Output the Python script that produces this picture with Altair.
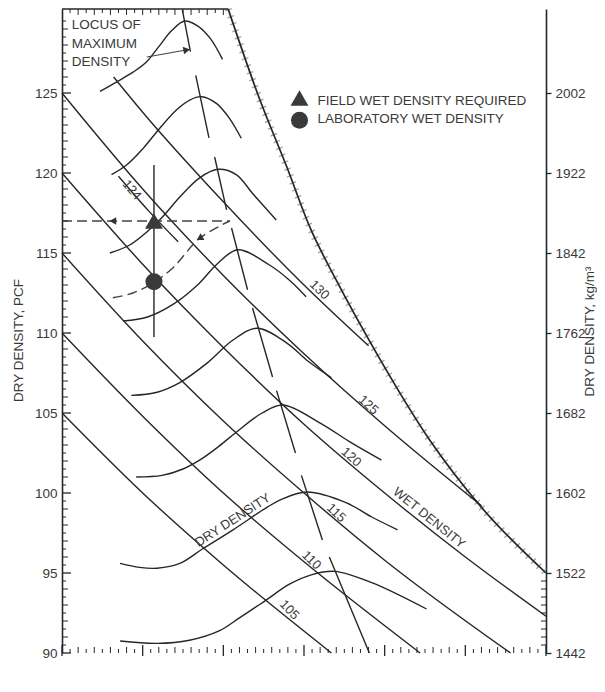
import altair as alt
import pandas as pd

FONT = "Liberation Sans"
INK = "#262626"
TXT = "#3a3a3a"

# ---------------- data ----------------
# x = moisture content (% of dry weight), y = dry density (pcf)
x_ticks = [0, 5, 10, 15, 20, 25, 30]
y_ticks = [90, 95, 100, 105, 110, 115, 120, 125]
kg_labels = ["1442", "1522", "1602", "1682", "1762", "1842", "1922", "2002"]

# compaction curves (dry density vs moisture)
curve_w = [
    [2.35, 3.4, 4.4, 5.2, 6.0, 6.8, 7.6, 8.4, 9.2, 9.95],
    [3.07, 4.0, 5.03, 6.06, 7.09, 7.92, 8.64, 9.57, 10.39, 11.11],
    [2.97, 4.2, 5.24, 6.27, 7.3, 8.53, 9.67, 10.8, 11.83, 13.28],
    [3.8, 5.3, 6.9, 8.5, 9.6, 10.9, 12.86, 14.1, 15.13],
    [4.3, 5.9, 7.3, 8.97, 10.6, 12.1, 13.9, 15.3, 16.7],
    [4.6, 6.2, 7.5, 8.6, 9.7, 10.8, 12.4, 13.7, 15.95, 18.0, 19.8],
    [3.6, 4.8, 5.9, 7.3, 8.7, 10.6, 12.7, 13.6, 15.2, 17.6, 19.2, 20.8],
    [3.6, 5.9, 7.9, 9.77, 11.0, 12.5, 14.1, 15.5, 16.9, 19.2, 22.6],
]
curve_d = [
    [125.1, 125.7, 126.3, 126.9, 127.9, 128.9, 129.5, 129.2, 128.4, 127.1],
    [119.9, 120.5, 121.54, 122.8, 123.94, 124.56, 124.77, 124.35, 123.4, 122.17],
    [115.0, 115.5, 116.3, 117.3, 118.5, 119.7, 120.23, 119.9, 118.7, 117.06],
    [110.75, 111.0, 111.8, 113.1, 114.3, 115.2, 114.25, 113.3, 112.27],
    [106.1, 106.3, 106.9, 108.1, 109.56, 110.3, 109.4, 108.2, 107.2],
    [101.0, 101.1, 101.5, 102.1, 102.9, 103.8, 105.0, 105.5, 104.4, 103.1, 102.06],
    [95.6, 95.35, 95.3, 95.6, 96.5, 97.7, 99.1, 99.6, 100.06, 99.4, 98.5, 97.7],
    [90.75, 90.6, 90.8, 91.4, 92.2, 93.2, 94.3, 94.9, 95.1, 94.4, 92.75],
]

# wet density lines (pcf)
wet_names = ["105", "110", "115", "120", "125", "130", "124"]
wet_w = [
    [0, 5, 10, 16.7],
    [0, 5, 10, 15, 22.2],
    [0, 5, 10, 15, 20, 27.8],
    [0, 5, 10, 15, 20, 25, 30],
    [0, 5, 10, 15, 20, 26.0],
    [3.2, 5, 10, 15, 19.0],
    [3.5, 5.4, 7.2],
]
wet_d = [
    [105, 100.0, 95.5, 90.0],
    [110, 104.8, 100.0, 95.7, 90.0],
    [115, 109.5, 104.5, 100.0, 95.8, 90.0],
    [120, 114.3, 109.1, 104.3, 100.0, 96.0, 92.3],
    [125, 119.0, 113.6, 108.7, 104.2, 99.2],
    [126.0, 123.8, 118.2, 113.0, 109.2],
    [119.8, 117.6, 115.7],
]

# hatched limiting boundary
bound_w = [10.3, 12.27, 13.93, 15.37, 17.0, 19.5, 22.8, 26.0, 30.0]
bound_d = [130.25, 124.56, 120.39, 116.6, 113.3, 108.73, 103.3, 99.1, 95.0]

# locus of maximum density segments (start, end)
locus_w = [[7.46, 7.96], [8.29, 9.11], [9.46, 10.2], [10.51, 11.5],
           [11.81, 13.05], [13.3, 14.47], [14.84, 16.14], [16.57, 19.05]]
locus_d = [[130.19, 127.58], [126.1, 122.2], [121.0, 117.7], [116.56, 112.7],
           [111.56, 107.25], [106.4, 102.5], [101.1, 97.06], [96.0, 90.0]]

# construction (dashed) lines
field_w = [0, 10.4]
field_d = [117.0, 117.0]
lab_w = [3.15, 4.4, 5.75, 6.9, 8.53, 10.4]
lab_d = [112.2, 112.5, 113.2, 114.1, 115.92, 117.0]
vert_w = [5.7, 5.7]
vert_d = [109.75, 120.5]

# symbols
tri_w, tri_d = [5.7, 14.72], [117.0, 124.69]
circ_w, circ_d = [5.7, 14.72], [113.2, 123.3]

# arrow heads and pointer line
arrow_w = [3.15, 8.53, 7.73]
arrow_d = [117.0, 115.92, 127.69]
arrow_ang = [0, 330, 170]
pointer_w = [5.26, 7.6]
pointer_d = [127.25, 127.67]

# labels written along lines
lab_text = ["130", "125", "120", "115", "110", "105", "124", "WET DENSITY", "DRY DENSITY"]
lab_tw = [15.96, 18.99, 17.93, 17.0, 15.46, 14.1, 4.33, 22.76, 10.58]
lab_td = [112.7, 105.5, 102.25, 98.75, 95.8, 92.7, 118.94, 98.44, 98.3]
lab_ang = [44, 42, 42, 43, 44, 46, 50, 39, 327]

locus_text = ["LOCUS OF", "MAXIMUM", "DENSITY"]
locus_tw = [0.6, 0.6, 0.6]
locus_td = [129.22, 128.07, 126.96]

legend_text = ["FIELD WET DENSITY REQUIRED", "LABORATORY WET DENSITY"]
legend_w = [15.83, 15.83]
legend_d = [124.5, 123.4]

# ---------------- chart ----------------
W_PX, H_PX = 484, 644
xs = alt.Scale(domain=[0, 30], nice=False, zero=False)
ys = alt.Scale(domain=[90, 130.25], nice=False, zero=False)


def X(f, axis=None):
    return alt.X(f, type="quantitative", scale=xs, axis=axis)


def Y(f, axis=None):
    return alt.Y(f, type="quantitative", scale=ys, axis=axis)


def long(ws, ds):
    rows = []
    for i, (a, b) in enumerate(zip(ws, ds)):
        for w, d in zip(a, b):
            rows.append({"id": i, "w": w, "d": d})
    return pd.DataFrame(rows)


left_axis = alt.Axis(orient="left", values=y_ticks, ticks=False, tickSize=0, labelPadding=5,
                     labelFont=FONT, labelFontSize=13.5, labelColor=TXT, labelFlush=False,
                     labelOverlap=False, domainColor=INK, domainWidth=1.6, grid=False,
                     title="DRY DENSITY, PCF", titleFont=FONT, titleFontSize=13.5,
                     titleFontWeight="normal", titleColor=TXT, titleAngle=270, titleX=-44,
                     titleY=331, titleAlign="center", titleBaseline="middle")
bottom_axis = alt.Axis(orient="bottom", values=x_ticks, ticks=False, tickSize=0, labelPadding=4,
                       labelFont=FONT, labelFontSize=13.5, labelColor=TXT, labelFlush=False,
                       labelOverlap=False, domainColor=INK, domainWidth=1.6, grid=False,
                       title="MOISTURE CONTENT, % OF DRY WEIGHT", titleFont=FONT,
                       titleFontSize=13.5, titleFontWeight="normal", titleColor=TXT,
                       titleX=238, titleY=24, titleAlign="center", titleBaseline="middle")
kg_expr = "[" + ",".join("'%s'" % s for s in kg_labels) + "][round((datum.value - 90) / 5)]"
right_axis = alt.Axis(orient="right", values=y_ticks, ticks=True, tickSize=5, tickColor=INK,
                      tickWidth=1.3, labelPadding=4, labelExpr=kg_expr, labelFont=FONT,
                      labelFontSize=13.5, labelColor=TXT, labelFlush=False, labelOverlap=False,
                      domainColor=INK, domainWidth=1.6, grid=False,
                      title="DRY DENSITY, kg/m³", titleFont=FONT, titleFontSize=13.5,
                      titleFontWeight="normal", titleColor=TXT, titleAngle=270, titleX=43,
                      titleY=322, titleAlign="center", titleBaseline="middle")

layers = []

# boundary with hatch marks
bdf = pd.DataFrame({"w": bound_w, "d": bound_d})
layers.append(alt.Chart(bdf).mark_line(color="#8a8a8a", strokeWidth=7, strokeDash=[1.4, 6],
                                       opacity=0.75, interpolate="monotone")
              .encode(x=X("w"), y=Y("d")))
layers.append(alt.Chart(bdf).mark_line(color=INK, strokeWidth=1.7, interpolate="monotone")
              .encode(x=X("w"), y=Y("d", right_axis)))

# wet density lines
layers.append(alt.Chart(long(wet_w, wet_d)).mark_line(color=INK, strokeWidth=1.4,
                                                      interpolate="monotone")
              .encode(x=X("w", bottom_axis), y=Y("d", left_axis), detail="id:N"))

# compaction curves
layers.append(alt.Chart(long(curve_w, curve_d)).mark_line(color=INK, strokeWidth=1.4,
                                                          interpolate="catmull-rom")
              .encode(x=X("w"), y=Y("d"), detail="id:N"))

# locus segments
layers.append(alt.Chart(long(locus_w, locus_d)).mark_line(color=INK, strokeWidth=1.4)
              .encode(x=X("w"), y=Y("d"), detail="id:N"))

# construction lines
layers.append(alt.Chart(pd.DataFrame({"w": field_w, "d": field_d}))
              .mark_line(color="#444444", strokeWidth=1.4, strokeDash=[10, 5])
              .encode(x=X("w"), y=Y("d")))
layers.append(alt.Chart(pd.DataFrame({"w": lab_w, "d": lab_d}))
              .mark_line(color="#444444", strokeWidth=1.4, strokeDash=[10, 5],
                         interpolate="catmull-rom")
              .encode(x=X("w"), y=Y("d")))
layers.append(alt.Chart(pd.DataFrame({"w": vert_w, "d": vert_d}))
              .mark_line(color=INK, strokeWidth=1.4)
              .encode(x=X("w"), y=Y("d")))
layers.append(alt.Chart(pd.DataFrame({"w": pointer_w, "d": pointer_d}))
              .mark_line(color="#444444", strokeWidth=1.2)
              .encode(x=X("w"), y=Y("d")))
layers.append(alt.Chart(pd.DataFrame({"w": arrow_w, "d": arrow_d, "a": arrow_ang}))
              .mark_point(shape="triangle-left", filled=True, size=60, color="#333333", opacity=1)
              .encode(x=X("w"), y=Y("d"), angle=alt.Angle("a:Q", scale=None)))

# symbols
layers.append(alt.Chart(pd.DataFrame({"w": tri_w, "d": tri_d}))
              .mark_point(shape="triangle-up", filled=True, size=320, color="#3a3a3a", opacity=1)
              .encode(x=X("w"), y=Y("d")))
layers.append(alt.Chart(pd.DataFrame({"w": circ_w, "d": circ_d}))
              .mark_point(shape="circle", filled=True, size=290, color="#3a3a3a", opacity=1)
              .encode(x=X("w"), y=Y("d")))

# texts
layers.append(alt.Chart(pd.DataFrame({"t": lab_text, "w": lab_tw, "d": lab_td, "a": lab_ang}))
              .mark_text(font=FONT, fontSize=13, color=TXT, baseline="middle", align="center")
              .encode(x=X("w"), y=Y("d"), text="t:N", angle=alt.Angle("a:Q", scale=None)))
layers.append(alt.Chart(pd.DataFrame({"t": locus_text, "w": locus_tw, "d": locus_td}))
              .mark_text(font=FONT, fontSize=13.5, color=TXT, baseline="middle", align="left")
              .encode(x=X("w"), y=Y("d"), text="t:N"))
layers.append(alt.Chart(pd.DataFrame({"t": legend_text, "w": legend_w, "d": legend_d}))
              .mark_text(font=FONT, fontSize=13.5, color=TXT, baseline="middle", align="left")
              .encode(x=X("w"), y=Y("d"), text="t:N"))

# top border of the field
layers.append(alt.Chart(pd.DataFrame({"w": [0], "w2": [bound_w[0]]}))
              .mark_rule(color=INK, strokeWidth=1.6)
              .encode(x=X("w"), x2="w2", y=alt.value(0)))

# inward tick marks
halves = [i * 0.5 for i in range(81) if i % 2 == 1]
wholes = [i for i in range(41) if i % 5 != 0]


def vticks(vals, y0, y1, sw=1.0):
    return (alt.Chart(pd.DataFrame({"v": vals})).mark_rule(color=INK, strokeWidth=sw)
            .encode(x=X("v"), y=alt.value(y0), y2=alt.value(y1)))


def hticks(vals, x0, x1, sw=1.0):
    return (alt.Chart(pd.DataFrame({"v": vals})).mark_rule(color=INK, strokeWidth=sw)
            .encode(y=Y("v"), x=alt.value(x0), x2=alt.value(x1)))


layers.append(vticks([v for v in halves if v <= 30], H_PX, H_PX - 4))
layers.append(vticks([v for v in wholes if v <= 30], H_PX, H_PX - 6))
layers.append(vticks(x_ticks, H_PX + 3, H_PX - 8, 1.3))
layers.append(vticks([v for v in halves if v <= bound_w[0]], 0, 4))
layers.append(vticks([v for v in wholes if v <= bound_w[0]] + [5, 10], 0, 6))
layers.append(hticks([90 + v for v in halves if v <= 40], 0, 4))
layers.append(hticks([90 + v for v in wholes if v <= 40], 0, 6))
layers.append(hticks(y_ticks, 0, 9, 1.3))
layers.append(hticks([90 + v for v in halves if v <= 5] + [91, 92, 93, 94], W_PX, W_PX - 5))

chart = (alt.layer(*layers)
         .resolve_scale(y="independent")
         .properties(width=W_PX, height=H_PX,
                     autosize=alt.AutoSizeParams(type="none"),
                     padding={"left": 54, "top": 1, "right": 51, "bottom": 31},
                     background="white")
         .configure_view(stroke=None))

chart.save("out.html", embed_options={"renderer": "svg", "actions": False})
